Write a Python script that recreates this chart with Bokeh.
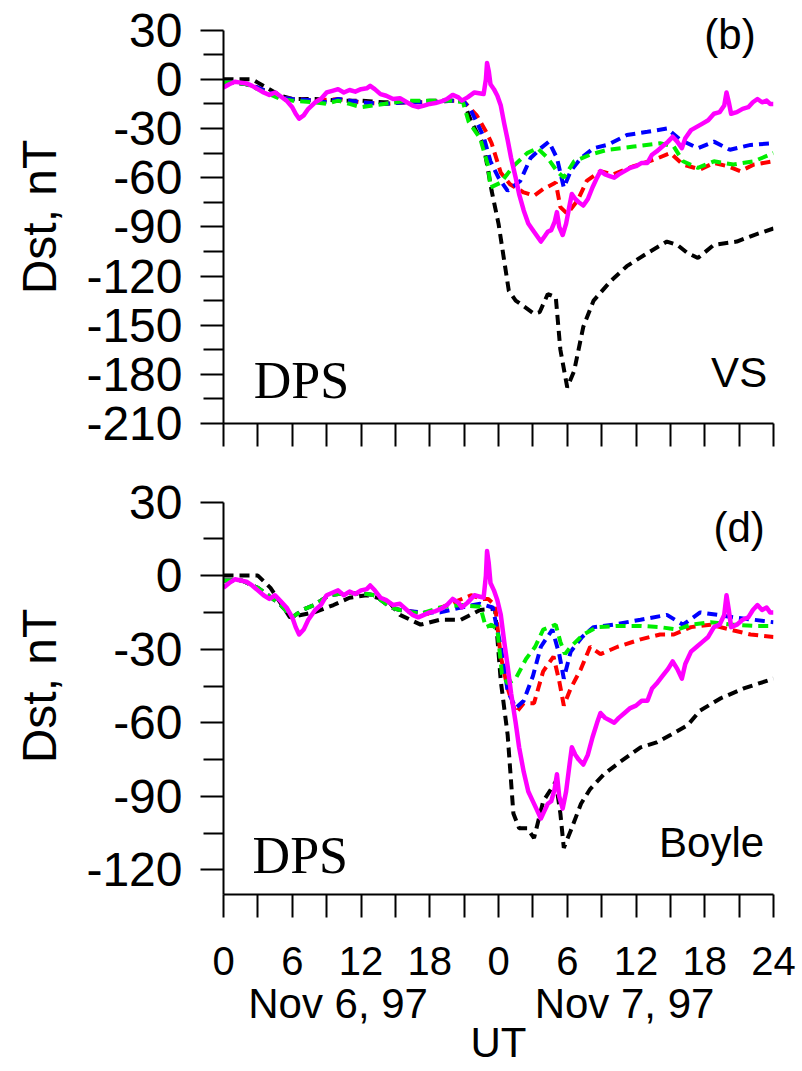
from bokeh.plotting import figure
from bokeh.layouts import column
from bokeh.models import Range1d, FixedTicker, LinearAxis, Label
from bokeh.embed import file_html
from bokeh.resources import INLINE

# ---------------- data (hours from 0 UT Nov 6, 1997; Dst in nT) ----------------
obs_h = [0.0, 0.5, 1.0, 1.5, 2.0, 2.5, 3.0, 3.5, 4.0, 4.5, 5.0, 5.5, 6.0, 6.3, 6.6, 7.0, 7.4, 8.0, 8.5,
         9.0, 9.5, 10.0, 10.5, 11.0, 11.5, 12.0, 12.5, 12.8, 13.2, 13.7, 14.2, 14.8, 15.4, 16.0, 16.5,
         17.0, 17.5, 18.0, 18.5, 19.0, 19.5, 20.0, 20.5, 20.8, 21.3, 21.9, 22.3, 22.7, 22.9, 23.0,
         23.15, 23.3, 23.6, 23.9, 24.2, 24.5, 24.8, 25.1, 25.5, 25.8, 26.2, 26.6, 26.9, 27.3, 27.7,
         28.0, 28.3, 28.6, 28.9, 29.1, 29.3, 29.6, 29.9, 30.2, 30.4, 30.7, 31.0, 31.4, 31.8, 32.2,
         32.6, 32.9, 33.3, 33.7, 34.1, 34.5, 35.0, 35.5, 36.0, 36.5, 37.0, 37.4, 37.8, 38.3, 38.8,
         39.2, 39.6, 40.0, 40.3, 40.8, 41.3, 41.8, 42.3, 42.8, 43.3, 43.7, 43.9, 44.1, 44.3, 44.8,
         45.3, 45.8, 46.2, 46.6, 47.0, 47.4, 47.7, 48.0]
obs_dst = [-5, -3, -1.5, -2, -2.5, -4, -6, -8, -9.5, -8, -10.5, -13, -17, -21, -24, -22, -18, -14, -12,
           -8, -7, -6, -8, -6.5, -7.5, -6, -5.5, -4, -6, -9, -10, -12, -11.5, -14, -16,
           -17, -16, -15, -14.5, -13.5, -12, -9.5, -11, -13, -11, -8, -8.5, -9, 0, 10,
           5, -3, -6, -10, -16, -27, -37, -48, -60, -70, -80, -88, -91, -95, -99,
           -96, -93, -92, -87, -81, -90, -95, -88, -77, -70, -73, -75, -77, -73, -66,
           -60, -56, -58, -59, -60, -58, -56, -54, -53, -51, -51, -46, -44, -41, -38,
           -35, -38, -42, -36, -31, -29, -27, -25, -21, -20, -16, -8, -14, -21, -20,
           -18, -17, -14, -12, -14, -13, -15, -15]

# panel (b): VS model
vs_black_h = [0, 2.5, 3, 4, 5, 6, 8, 10, 12, 14, 16, 18, 20, 20.9, 21.7, 22.7, 23.4, 24, 24.9, 25.5,
              27.1, 27.6, 28.3, 29, 29.4, 30, 30.6, 31.4, 32.3, 33.8, 35.2, 37, 38.7, 39.6, 40.5,
              41.4, 42.8, 44.8, 46.3, 48]
vs_black = [0, 0, -2, -6, -10, -12, -12, -13, -13, -14, -14, -13, -13, -13, -27, -40, -68, -88, -129,
            -135, -143, -142, -131, -133, -165, -188, -178, -151, -135, -123, -114, -106, -99, -101,
            -106, -109, -101, -99, -95, -91]
vs_red_h = [0, 1, 2, 3, 4, 5, 6, 8, 10, 12, 14, 16, 18, 20, 20.9, 22.1, 23, 23.4, 24.2, 25, 26.2,
            27.1, 27.9, 29, 29.4, 30, 30.9, 31.7, 32.9, 34, 35.8, 37.6, 39, 40.1, 41.6, 42.8, 44,
            45.1, 46.3, 48]
vs_red = [-2, -2, -3, -5, -8, -11, -12, -13, -12, -14, -15, -14, -14, -13, -13, -22, -33, -39, -57,
          -64, -69, -71, -67, -63, -78, -82, -74, -62, -56, -58, -53, -49, -45, -52, -55, -51, -53,
          -56, -52, -50]
vs_blue_h = [0, 1, 2, 3, 4, 5, 6, 8, 9, 10, 12, 14, 16, 18, 20, 20.9, 21.6, 22.7, 23.3, 24, 24.8,
             25.9, 26.8, 27.7, 28.4, 29.1, 29.7, 30.3, 31.2, 32.3, 33.5, 35.2, 37, 38.7, 39.9, 41.4,
             42.8, 44.2, 46, 48]
vs_blue = [-2, -2, -3, -5, -8, -11, -12, -13, -14, -12, -14, -15, -14, -14, -13, -13, -19, -35, -50,
           -60, -68, -62, -48, -42, -38, -48, -66, -56, -48, -42, -40, -34, -32, -30, -37, -42, -38,
           -43, -40, -39]
vs_green_h = [0, 1, 2, 3, 4, 5, 6, 8, 9, 10, 11, 12, 13, 14, 16, 18, 20, 20.9, 21.4, 22.4, 23.1,
              23.3, 24.2, 25.3, 26.5, 27.4, 28.3, 29.1, 29.7, 30.6, 32, 33.5, 35.8, 38.1, 39.3, 40.1,
              41.4, 42.8, 44.5, 46.3, 48]
vs_green = [-2, -2, -3, -6, -9, -12, -13, -14, -15, -13, -15, -17, -16, -15, -13, -13, -13, -14, -26,
            -36, -53, -66, -63, -53, -45, -42, -48, -56, -60, -50, -46, -43, -41, -39, -41, -50, -54,
            -50, -52, -50, -45]

# panel (d): Boyle model
by_black_h = [0, 3, 4.1, 5.8, 7.9, 9.6, 11, 12.5, 14.3, 15.4, 17.2, 18.9, 20.7, 22.4, 23.7, 24.2,
              24.8, 25.3, 25.8, 26.5, 27.1, 27.9, 29, 29.4, 29.7, 30.3, 31.2, 32, 33.2, 34.6, 36.4,
              37.8, 39, 40.5, 41.6, 43.4, 45.4, 48]
by_black = [0, 0, -5, -17, -15, -12, -9, -8, -10, -16, -20, -18, -18, -14, -13.5, -43, -65, -97,
            -103, -103, -107, -92, -84, -97, -111, -104, -93, -87, -81, -76, -70, -68, -65, -61,
            -55, -50, -46, -42]
by_red_h = [0, 1.6, 3, 3.9, 5, 6, 6.9, 7.9, 9.2, 11, 12.5, 13.2, 14.6, 15.4, 17.8, 19.5, 21.6, 22.5,
            23.1, 23.7, 24.2, 24.8, 25.5, 26.2, 27.1, 27.9, 28.8, 29.3, 29.7, 30.3, 31.2, 32, 32.9,
            34.4, 36.4, 38.1, 39.3, 40.8, 42.5, 44.2, 46, 48]
by_red = [-2, -2, -5, -8, -12, -17, -14, -12, -8, -7, -7.5, -8, -13, -14, -15.6, -12, -8, -9.5, -9.5,
          -12, -33, -46, -56, -52, -52, -39, -33, -43, -53, -46, -38, -29, -32, -29, -26, -24, -24,
          -21, -20, -22, -24, -25]
by_blue_h = [0, 1.6, 3, 3.9, 5, 6, 6.9, 7.9, 9.2, 11, 12.5, 13.2, 14.6, 15.4, 17.2, 18.9, 20.7, 22.4,
             23.5, 24.2, 24.8, 25.5, 26.2, 27, 27.7, 28.7, 29.3, 29.7, 30.3, 31.3, 32.3, 34, 36.4,
             38.7, 40.1, 41.6, 43.1, 44.5, 46.3, 48]
by_blue = [-2, -2, -5, -8, -12, -17, -14, -12, -8, -7, -7.5, -8, -13, -14, -15, -15, -13, -11.5, -13,
           -29, -47, -54, -51, -41, -29, -22, -32, -42, -31, -25, -21, -20, -18, -16, -20, -15, -16,
           -17, -18, -19]
by_green_h = [0, 1.6, 3, 3.9, 5, 6, 6.9, 7.9, 9.2, 11, 12.5, 13.2, 14.6, 15.4, 17.2, 18.9, 20.7,
              22.4, 22.9, 23.4, 23.9, 24.3, 24.8, 25.5, 26.4, 27.2, 27.9, 29, 29.4, 29.8, 30.3, 31.4,
              32.6, 34.4, 36.4, 38.1, 39.6, 40.8, 42.5, 44.5, 46.3, 48]
by_green = [-2, -2, -5, -8, -12, -17, -14, -12, -8, -7, -7.5, -8, -13, -14, -15.6, -13, -12, -12.7,
            -21, -20, -22, -40, -44, -42, -34, -29, -22, -20, -27, -32, -29, -24, -21, -20.5, -20.5,
            -21, -22, -20, -19, -20, -20.5, -20.5]

x_all_ticks = [0, 3, 6, 9, 12, 15, 18, 21, 24, 27, 30, 33, 36, 39, 42, 45, 48]
x_ticks = [0, 6, 12, 18, 24, 30, 36, 42, 48]
x_tick_labels = ["0", "6", "12", "18", "0", "6", "12", "18", "24"]
x_minor = [3, 9, 15, 21, 27, 33, 39, 45]
day_ticks = [10, 35]
day_labels = ["Nov 6, 97", "Nov 7, 97"]

top_yticks = [-210, -180, -150, -120, -90, -60, -30, 0, 30]
top_yminor = [-195, -165, -135, -105, -75, -45, -15, 15]
bot_yticks = [-120, -90, -60, -30, 0, 30]
bot_yminor = [-105, -75, -45, -15, 15]

SANS = "Liberation Sans"
SERIF = "Liberation Serif"
DASH = "10 6"
COLORS = ["black", "#FF0000", "#0000FF", "#00EE00"]


def make_panel(ymin, ymax, ytop, yticks, yminor, model_series, letter, model_name, letter_pos,
               name_pos, dps_pos, show_x_labels, height, border_top, border_bottom):
    p = figure(width=800, height=height, x_range=Range1d(0, 48), y_range=Range1d(ymin, ytop),
               output_backend="svg", toolbar_location=None,
               min_border_left=223, min_border_right=27, min_border_top=border_top,
               min_border_bottom=border_bottom)
    p.grid.visible = False
    p.outline_line_color = None
    p.background_fill_color = "white"
    p.border_fill_color = "white"

    ya = p.yaxis[0]
    ya.bounds = (ymin, ymax)
    ya.ticker = FixedTicker(ticks=yticks, minor_ticks=yminor)
    ya.major_label_overrides = {v: str(v) for v in yticks}
    ya.axis_line_width = 2
    ya.major_tick_line_width = 2
    ya.minor_tick_line_width = 2
    ya.major_tick_in = 0
    ya.major_tick_out = 23
    ya.minor_tick_in = 0
    ya.minor_tick_out = 20
    ya.major_label_text_font = SANS
    ya.major_label_text_font_size = "48px"
    ya.major_label_text_color = "black"
    ya.major_label_standoff = 18
    ya.axis_label = "Dst, nT"
    ya.axis_label_text_font = SANS
    ya.axis_label_text_font_size = "48px"
    ya.axis_label_text_font_style = "normal"
    ya.axis_label_text_color = "black"
    ya.axis_label_standoff = 17

    xa = p.xaxis[0]
    xa.axis_line_width = 2
    xa.major_tick_line_width = 2
    xa.minor_tick_line_width = 2
    xa.major_tick_in = 0
    xa.major_tick_out = 23
    xa.minor_tick_in = 0
    xa.minor_tick_out = 23
    if show_x_labels:
        xa.ticker = FixedTicker(ticks=x_ticks, minor_ticks=x_minor)
        xa.major_label_overrides = {t: s for t, s in zip(x_ticks, x_tick_labels)}
        xa.major_label_text_font = SANS
        xa.major_label_text_font_size = "40px"
        xa.major_label_text_color = "black"
        xa.major_label_standoff = 29

        ax2 = LinearAxis(ticker=FixedTicker(ticks=day_ticks),
                         major_label_overrides={t: s for t, s in zip(day_ticks, day_labels)})
        ax2.axis_line_color = None
        ax2.major_tick_line_color = None
        ax2.minor_tick_line_color = None
        ax2.major_tick_in = 0
        ax2.major_tick_out = 0
        ax2.minor_tick_in = 0
        ax2.minor_tick_out = 0
        ax2.major_label_text_font = SANS
        ax2.major_label_text_font_size = "42px"
        ax2.major_label_text_color = "black"
        ax2.major_label_standoff = 2
        ax2.axis_label = "UT"
        ax2.axis_label_text_font = SANS
        ax2.axis_label_text_font_size = "42px"
        ax2.axis_label_text_font_style = "normal"
        ax2.axis_label_text_color = "black"
        ax2.axis_label_standoff = -11
        p.add_layout(ax2, "below")
    else:
        # tick marks only, no labels
        xa.ticker = FixedTicker(ticks=[], minor_ticks=x_all_ticks)
        xa.major_label_standoff = 0

    for (hx, vals), col in zip(model_series, COLORS):
        p.line(hx, vals, line_color=col, line_width=4, line_dash=DASH)
    p.line(obs_h, obs_dst, line_color="#FF00FF", line_width=4.5, line_join="round")

    p.add_layout(Label(x=letter_pos[0], y=letter_pos[1], text=letter, text_font=SANS,
                       text_font_size="42px", text_align="center", text_baseline="middle",
                       text_color="black"))
    p.add_layout(Label(x=name_pos[0], y=name_pos[1], text=model_name, text_font=SANS,
                       text_font_size="42px", text_align="center", text_baseline="middle",
                       text_color="black"))
    p.add_layout(Label(x=dps_pos[0], y=dps_pos[1], text="DPS", text_font=SERIF,
                       text_font_size="52px", text_align="center", text_baseline="middle",
                       text_color="black"))
    return p


top = make_panel(-210, 30, 42, top_yticks, top_yminor,
                 [(vs_black_h, vs_black), (vs_red_h, vs_red), (vs_blue_h, vs_blue), (vs_green_h, vs_green)],
                 "(b)", "VS", (44.2, 27.5), (45.0, -179), (6.8, -184), False, 463, 10, 40)
bottom = make_panel(-130, 30, 40, bot_yticks, bot_yminor,
                    [(by_black_h, by_black), (by_red_h, by_red), (by_blue_h, by_blue), (by_green_h, by_green)],
                    "(d)", "Boyle", (45.0, 19.6), (42.6, -109), (6.7, -114), True, 608, 14, 177)

layout = column(top, bottom, spacing=0)
open("out.html", "w").write(file_html(layout, INLINE))
